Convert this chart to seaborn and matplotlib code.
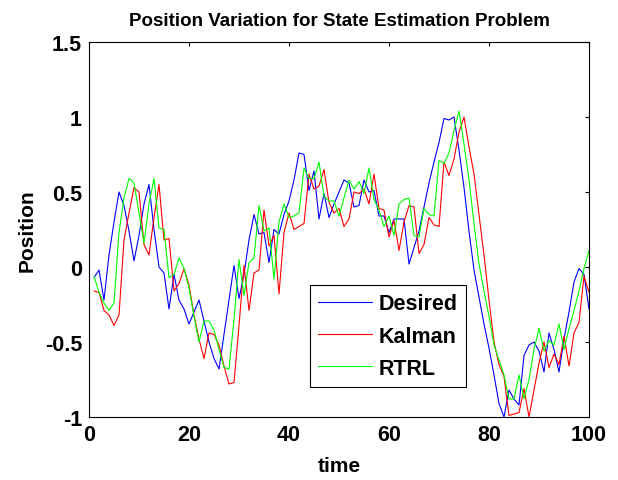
import numpy as np
import pandas as pd
import matplotlib
matplotlib.use("Agg")
import matplotlib.pyplot as plt
import seaborn as sns

# values (time steps 1..100)
time = np.arange(1, 101)

desired = [-0.07, -0.02, -0.22, 0.08, 0.30, 0.50, 0.41, 0.24, 0.04, 0.21,
           0.42, 0.55, 0.25, 0.00, -0.04, -0.28, -0.05, -0.22, -0.28, -0.38,
           -0.30, -0.22, -0.36, -0.50, -0.61, -0.68, -0.45, -0.22, 0.01, -0.21,
           -0.05, 0.18, 0.35, 0.22, 0.23, 0.03, 0.25, 0.22, 0.35, 0.44,
           0.58, 0.76, 0.75, 0.51, 0.64, 0.32, 0.49, 0.33, 0.42, 0.50,
           0.58, 0.56, 0.40, 0.41, 0.58, 0.50, 0.51, 0.34, 0.34, 0.23,
           0.32, 0.32, 0.32, 0.02, 0.13, 0.24, 0.40, 0.56, 0.70, 0.83,
           0.99, 0.98, 1.00, 0.78, 0.53, 0.24, -0.02, -0.20, -0.38, -0.54,
           -0.72, -0.91, -1.00, -0.82, -0.88, -0.92, -0.59, -0.52, -0.50, -0.56,
           -0.70, -0.44, -0.55, -0.70, -0.48, -0.30, -0.10, -0.01, -0.05, -0.28]

kalman = [-0.16, -0.17, -0.29, -0.32, -0.39, -0.32, 0.18, 0.36, 0.53, 0.50,
          0.15, 0.08, 0.33, 0.55, 0.18, 0.19, -0.16, -0.11, -0.01, -0.12,
          -0.32, -0.48, -0.61, -0.44, -0.45, -0.52, -0.66, -0.78, -0.77, -0.39,
          0.01, -0.29, -0.04, -0.02, 0.38, 0.14, 0.21, -0.18, 0.23, 0.36,
          0.25, 0.27, 0.29, 0.62, 0.52, 0.54, 0.65, 0.43, 0.36, 0.39,
          0.27, 0.32, 0.50, 0.49, 0.52, 0.42, 0.62, 0.39, 0.38, 0.20,
          0.31, 0.11, 0.30, 0.41, 0.40, 0.09, 0.15, 0.33, 0.28, 0.27,
          0.70, 0.61, 0.72, 0.90, 1.00, 0.80, 0.62, 0.35, 0.08, -0.22,
          -0.50, -0.65, -0.73, -0.99, -0.98, -0.97, -0.81, -1.00, -0.82, -0.64,
          -0.50, -0.67, -0.58, -0.65, -0.46, -0.66, -0.44, -0.37, -0.06, -0.17]

rtrl = [-0.06, -0.17, -0.24, -0.29, -0.24, 0.23, 0.46, 0.59, 0.56, 0.36,
        0.16, 0.42, 0.59, 0.26, 0.25, -0.07, -0.05, 0.06, -0.01, -0.14,
        -0.33, -0.50, -0.36, -0.36, -0.42, -0.55, -0.67, -0.68, -0.35, 0.05,
        -0.19, 0.03, 0.06, 0.41, 0.24, 0.26, -0.08, 0.30, 0.42, 0.33,
        0.34, 0.36, 0.66, 0.59, 0.59, 0.70, 0.47, 0.44, 0.44, 0.34,
        0.46, 0.58, 0.52, 0.57, 0.49, 0.66, 0.45, 0.38, 0.27, 0.34,
        0.21, 0.42, 0.45, 0.46, 0.21, 0.20, 0.39, 0.35, 0.34, 0.71,
        0.69, 0.76, 0.91, 1.04, 0.82, 0.58, 0.29, 0.02, -0.16, -0.33,
        -0.52, -0.62, -0.72, -0.88, -0.88, -0.72, -0.88, -0.75, -0.55, -0.41,
        -0.56, -0.49, -0.52, -0.38, -0.55, -0.41, -0.29, -0.16, -0.01, 0.11]

series_names = ["Desired", "Kalman", "RTRL"]
colors = ["#0000ff", "#ff0000", "#00ff00"]

yticks = [-1, -0.5, 0, 0.5, 1, 1.5]
ytick_labels = ["-1", "-0.5", "0", "0.5", "1", "1.5"]
xticks = [0, 20, 40, 60, 80, 100]

df = pd.DataFrame({
    "time": np.tile(time, 3),
    "Position": desired + kalman + rtrl,
    "series": np.repeat(series_names, len(time)),
})

sns.set_style("white")
plt.rcParams["font.family"] = ["Liberation Sans", "DejaVu Sans"]
plt.rcParams["font.weight"] = "bold"
plt.rcParams["text.color"] = "black"
plt.rcParams["axes.labelcolor"] = "black"
plt.rcParams["xtick.color"] = "black"
plt.rcParams["ytick.color"] = "black"

fig = plt.figure(figsize=(6.18, 4.81), dpi=100)
ax = fig.add_axes([89 / 618, 1 - 418 / 481, 500 / 618, 375 / 481])

sns.lineplot(data=df, x="time", y="Position", hue="series",
             palette=colors, linewidth=0.8, ax=ax, legend=False)

ax.set_xlim(0, 100)
ax.set_ylim(-1, 1.5)
ax.set_xticks(xticks)
ax.set_xticklabels([str(v) for v in xticks], fontsize=15.5, fontweight="bold")
ax.set_yticks(yticks)
ax.set_yticklabels(ytick_labels, fontsize=15.5, fontweight="bold")
ax.tick_params(direction="in", top=True, right=True, length=3, width=0.8, pad=5)
for s in ax.spines.values():
    s.set_color("black")
    s.set_linewidth(0.8)

ax.set_title("Position Variation for State Estimation Problem",
             fontsize=13.5, fontweight="bold", pad=12)
ax.set_xlabel("time", fontsize=15, fontweight="bold", labelpad=8)
ax.set_ylabel("Position", fontsize=15, fontweight="bold", labelpad=6)

handles = [plt.Line2D([], [], color=c, linewidth=0.8) for c in colors]
leg = ax.legend(handles, series_names, loc="lower left",
                bbox_to_anchor=(0.442, 0.08), fontsize=15.5, frameon=True,
                fancybox=False, edgecolor="black", framealpha=1,
                handlelength=2.5, handletextpad=0.3, labelspacing=0.52,
                borderpad=0.38, borderaxespad=0)
leg.get_frame().set_linewidth(0.8)
for t in leg.get_texts():
    t.set_fontweight("bold")

fig.savefig("out.png", dpi=100)
